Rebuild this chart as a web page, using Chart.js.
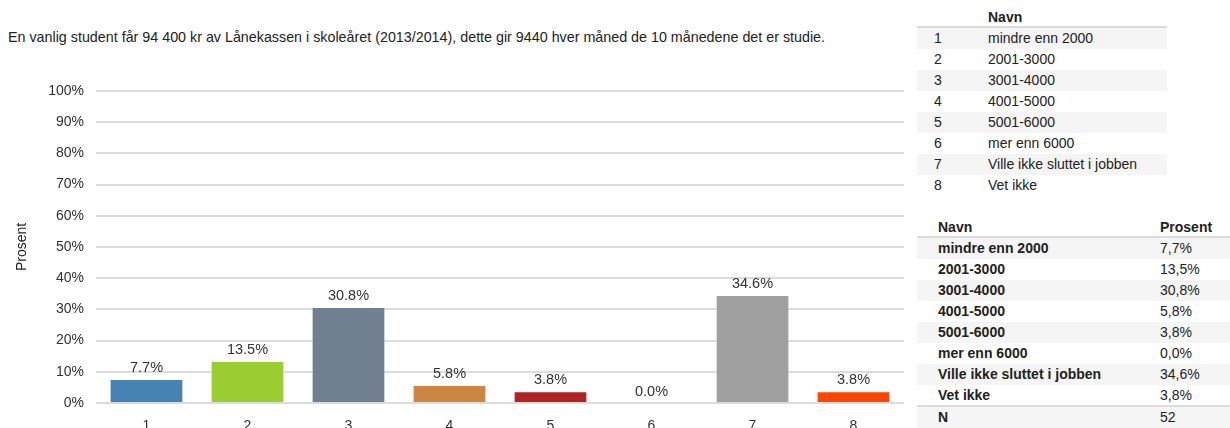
<!DOCTYPE html>
<html>
<head>
<meta charset="utf-8">
<script src="https://cdn.jsdelivr.net/npm/chart.js@4.4.1/dist/chart.umd.min.js"></script>
<style>
  html, body { margin: 0; padding: 0; background: #fff; overflow: hidden; }
  body { width: 1230px; height: 428px; position: relative; font-family: "Liberation Sans", Arial, sans-serif; color: #222; }
  #title { position: absolute; left: 8px; top: 29px; font-size: 14.3px; white-space: nowrap; color: #222; }
  #wrap { position: absolute; left: 0; top: 0; width: 910px; height: 428px; }
  .tbl { position: absolute; font-size: 14px; }
  .row { position: absolute; height: 21px; line-height: 21px; }
  .row span { position: absolute; top: 0; white-space: nowrap; }
  .shade { background: #f5f5f5; }
  .hline { position: absolute; height: 2px; background: #dcdcdc; }
  b { font-weight: bold; }
</style>
</head>
<body>
<div id="title"></div>
<div id="wrap"><canvas id="c"></canvas></div>
<div id="t1" class="tbl"></div>
<div id="t2" class="tbl"></div>
<script>
const titleText = "En vanlig student får 94 400 kr av Lånekassen i skoleåret (2013/2014), dette gir 9440 hver måned de 10 månedene det er studie.";
const categories = ["1", "2", "3", "4", "5", "6", "7", "8"];
const names = ["mindre enn 2000", "2001-3000", "3001-4000", "4001-5000", "5001-6000", "mer enn 6000", "Ville ikke sluttet i jobben", "Vet ikke"];
const values = [7.7, 13.5, 30.8, 5.8, 3.8, 0.0, 34.6, 3.8];
const barColors = ["#4682B4", "#9ACD32", "#708090", "#CD853F", "#B22222", "#E0E0E0", "#A0A0A0", "#FF4500"];
const nTotal = 52;
const yTicks = [0, 10, 20, 30, 40, 50, 60, 70, 80, 90, 100];

const FONT = '"Liberation Sans", Arial, sans-serif';
document.getElementById('title').textContent = titleText;

// Table 1
(function () {
  const t = document.getElementById('t1');
  t.style.left = '917px'; t.style.top = '0px';
  let html = '<div class="row" style="top:7px;width:250px"><span style="left:71px"><b>Navn</b></span></div>';
  html += '<div class="hline" style="top:26px;left:0;width:250px"></div>';
  categories.forEach((c, i) => {
    const top = 28 + i * 21;
    html += '<div class="row ' + (i % 2 === 0 ? 'shade' : '') + '" style="top:' + top + 'px;width:250px">' +
      '<span style="left:17px">' + c + '</span><span style="left:71px">' + names[i] + '</span></div>';
  });
  t.innerHTML = html;
})();

// Table 2
(function () {
  const t = document.getElementById('t2');
  t.style.left = '917px'; t.style.top = '0px';
  let html = '<div class="row" style="top:217px;width:313px"><span style="left:21px"><b>Navn</b></span><span style="left:243px"><b>Prosent</b></span></div>';
  html += '<div class="hline" style="top:236px;left:0;width:313px"></div>';
  names.forEach((n, i) => {
    const top = 238 + i * 21;
    html += '<div class="row ' + (i % 2 === 0 ? 'shade' : '') + '" style="top:' + top + 'px;width:313px">' +
      '<span style="left:21px"><b>' + n + '</b></span><span style="left:243px">' + values[i].toFixed(1).replace('.', ',') + '%</span></div>';
  });
  html += '<div class="hline" style="top:405px;left:0;width:313px"></div>';
  html += '<div class="row shade" style="top:407px;width:313px"><span style="left:21px"><b>N</b></span><span style="left:243px">' + nTotal + '</span></div>';
  t.innerHTML = html;
})();

const labelPlugin = {
  id: 'barLabels',
  afterDatasetsDraw(chart) {
    const ctx = chart.ctx;
    const meta = chart.getDatasetMeta(0);
    ctx.save();
    ctx.font = '14.5px ' + FONT;
    ctx.fillStyle = '#333';
    ctx.textAlign = 'center';
    ctx.textBaseline = 'bottom';
    meta.data.forEach((bar, i) => {
      ctx.fillText(values[i].toFixed(1) + '%', bar.x, bar.y - 4);
    });
    ctx.restore();
  }
};

new Chart(document.getElementById('c'), {
  type: 'bar',
  data: {
    labels: categories,
    datasets: [{
      data: values,
      backgroundColor: barColors,
      borderColor: 'rgba(255,255,255,0.6)',
      borderWidth: 1,
      barPercentage: 0.73,
      categoryPercentage: 1.0
    }]
  },
  options: {
    responsive: true,
    maintainAspectRatio: false,
    animation: false,
    events: [],
    layout: { padding: { top: 91, right: 6, left: 0, bottom: 0 } },
    plugins: { legend: { display: false }, tooltip: { enabled: false } },
    scales: {
      x: {
        grid: { display: false, drawTicks: false },
        border: { display: false },
        ticks: { padding: 15, color: '#333', font: { size: 14, family: FONT } },
        afterFit(s) { s.height = 25; }
      },
      y: {
        min: 0, max: 100,
        afterBuildTicks(s) { s.ticks = yTicks.map(v => ({ value: v })); },
        grid: { color: '#dcdcdc', lineWidth: 2, drawTicks: false },
        border: { display: false },
        ticks: { padding: 12, color: '#333', font: { size: 14, family: FONT }, callback: v => v + '%' },
        title: { display: true, text: 'Prosent', color: '#222', padding: { top: 14, bottom: 0 }, font: { size: 14, family: FONT } },
        afterFit(s) { s.width = 96; }
      }
    }
  },
  plugins: [labelPlugin]
});
</script>
</body>
</html>
